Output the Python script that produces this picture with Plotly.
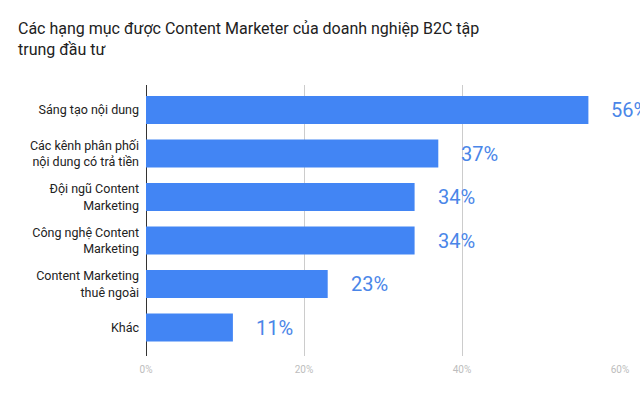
import plotly.graph_objects as go

categories = [
    "Sáng tạo nội dung",
    "Các kênh phân phối<br>nội dung có trả tiền",
    "Đội ngũ Content<br>Marketing",
    "Công nghệ Content<br>Marketing",
    "Content Marketing<br>thuê ngoài",
    "Khác",
]
values = [56, 37, 34, 34, 23, 11]
value_labels = ["56%", "37%", "34%", "34%", "23%", "11%"]
x_tick_vals = [0, 20, 40, 60]
x_tick_text = ["0%", "20%", "40%", "60%"]

BLUE = "#4285f4"

fig = go.Figure()
fig.add_trace(go.Bar(
    y=list(range(len(categories))),
    x=values,
    orientation="h",
    marker=dict(color=BLUE, line=dict(width=0)),
    hoverinfo="skip",
))

for i, (v, t) in enumerate(zip(values, value_labels)):
    fig.add_annotation(
        x=v, y=i, text=t, showarrow=False,
        xanchor="left", yanchor="middle", xshift=21,
        font=dict(family="Roboto", size=20, color="#4a86e8"),
    )

fig.update_layout(
    width=640, height=396,
    margin=dict(l=146, r=20, t=85, b=40),
    paper_bgcolor="white", plot_bgcolor="white",
    bargap=0.36,
    showlegend=False,
    title=dict(
        text="Các hạng mục được Content Marketer của doanh nghiệp B2C tập<br>trung đầu tư",
        x=18 / 640, xanchor="left", xref="container",
        y=1 - 34 / 396, yanchor="top", yref="container",
        font=dict(family="Roboto", size=16, color="#212121"),
    ),
    xaxis=dict(
        range=[0, 60], tickvals=x_tick_vals, ticktext=x_tick_text,
        showgrid=True, gridcolor="#cccccc", gridwidth=1,
        zeroline=True, zerolinecolor="#333333", zerolinewidth=1,
        tickfont=dict(family="Roboto", size=10, color="#bdbdbd"),
        ticks="", ticklen=0, showline=False, fixedrange=True,
        ticklabelstandoff=6,
    ),
    yaxis=dict(
        tickvals=list(range(len(categories))), ticktext=categories,
        range=[5.655, -0.575],
        showgrid=False, zeroline=False, showline=False,
        ticks="", ticklen=0,
        tickfont=dict(family="Roboto", size=12.5, color="#222222"),
        fixedrange=True,
        ticklabelstandoff=6,
    ),
)

fig.write_html("out.html")
